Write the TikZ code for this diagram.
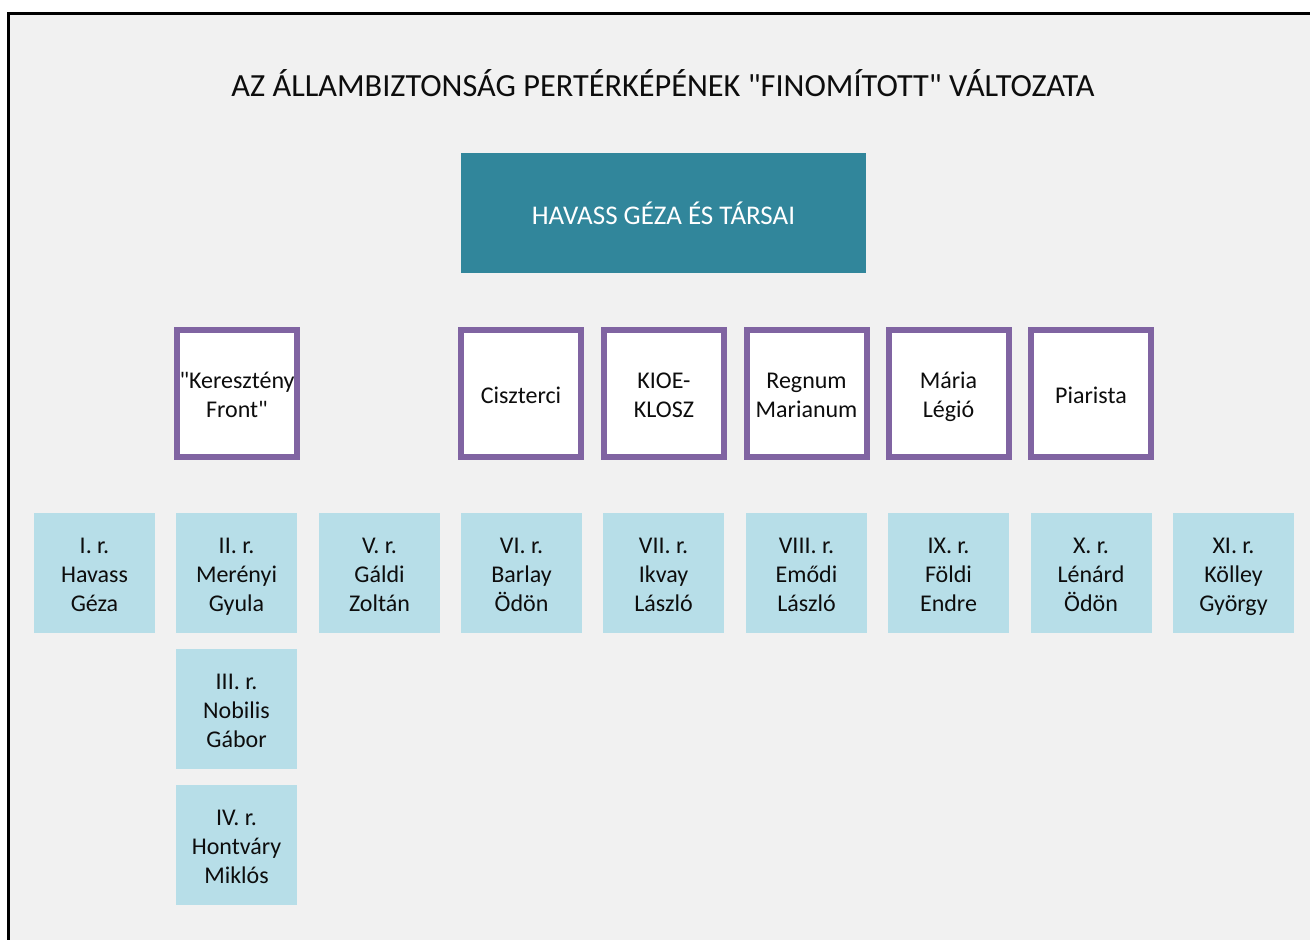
\documentclass[tikz,border=0pt]{standalone}
\usepackage{fontspec}
\setmainfont{Carlito}[Ligatures=TeXOff]
\definecolor{bgc}{HTML}{F1F1F1}
\definecolor{teal}{HTML}{31869B}
\definecolor{purp}{HTML}{8064A2}
\definecolor{lblue}{HTML}{B7DEE8}
\definecolor{txt}{HTML}{0D0D0D}
\newcommand\tstr{\vrule height 28pt depth 0pt width 0pt}
\tikzset{
  boxtext/.style={align=center, text=txt, font=\fontsize{24}{29}\selectfont, execute at end node={\vrule height 0pt depth 8.7pt width 0pt}},
  bluebox/.style={boxtext, fill=lblue, minimum width=121pt, minimum height=120pt, inner sep=0pt},
  purpbox/.style={boxtext, draw=purp, fill=white, line width=6pt, minimum width=120pt, minimum height=127pt, inner sep=0pt},
  topbox/.style={fill=teal, minimum width=405pt, minimum height=120pt, inner sep=0pt, text=white, font=\fontsize{27}{32}\selectfont},
  titletext/.style={text=txt, font=\fontsize{32.3}{36}\selectfont}
}
\begin{document}
\begin{tikzpicture}[x=1pt,y=-1pt]
\useasboundingbox (0,0) rectangle (1310,940);
\fill[white] (0,0) rectangle (1310,940);
\fill[bgc] (8.5,13.5) rectangle (1310,940);
\draw[line width=3pt] (8.5,940) -- (8.5,13.5) -- (1310,13.5);
\node[titletext] (title) at (663,83) {AZ ÁLLAMBIZTONSÁG PERTÉRKÉPÉNEK "FINOMÍTOTT" VÁLTOZATA};
\node[topbox] (top) at (663.5,213) {HAVASS GÉZA ÉS TÁRSAI};
% purple boxes
\node[purpbox] (p1) at (237,393.5) {\tstr"Keresztény\\Front"};
\node[purpbox] (p2) at (521,393.5) {\tstr Ciszterci};
\node[purpbox] (p3) at (664,393.5) {\tstr KIOE-\\KLOSZ};
\node[purpbox] (p4) at (806.5,393.5) {\tstr Regnum\\Marianum};
\node[purpbox] (p5) at (948.5,393.5) {\tstr Mária\\Légió};
\node[purpbox] (p6) at (1091,393.5) {\tstr Piarista};
% blue boxes
\node[bluebox] (b1) at (94.5,573) {\tstr I. r.\\Havass\\Géza};
\node[bluebox] (b2) at (236.5,573) {\tstr II. r.\\Merényi\\Gyula};
\node[bluebox] (b3) at (236.5,709) {\tstr III. r.\\Nobilis\\Gábor};
\node[bluebox] (b4) at (236.5,845) {\tstr IV. r.\\Hontváry\\Miklós};
\node[bluebox] (b5) at (379.5,573) {\tstr V. r.\\Gáldi\\Zoltán};
\node[bluebox] (b6) at (521.5,573) {\tstr VI. r.\\Barlay\\Ödön};
\node[bluebox] (b7) at (663.5,573) {\tstr VII. r.\\Ikvay\\László};
\node[bluebox] (b8) at (806.5,573) {\tstr VIII. r.\\Emődi\\László};
\node[bluebox] (b9) at (948.5,573) {\tstr IX. r.\\Földi\\Endre};
\node[bluebox] (b10) at (1091,573) {\tstr X. r.\\Lénárd\\Ödön};
\node[bluebox] (b11) at (1233.5,573) {\tstr XI. r.\\Kölley\\György};
\end{tikzpicture}
\end{document}
